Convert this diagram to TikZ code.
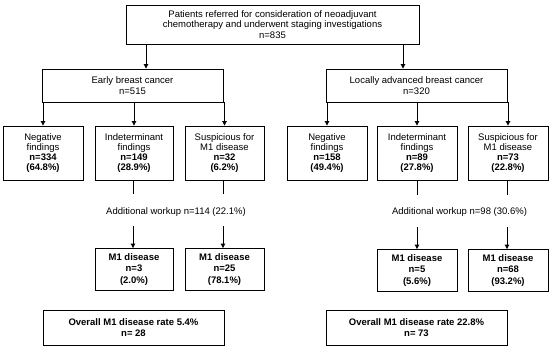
\documentclass[tikz,border=0pt]{standalone}
\usepackage{fontspec}
\setmainfont{Liberation Sans}
\usetikzlibrary{arrows.meta}
\begin{document}
\begin{tikzpicture}[x=1pt,y=-1pt,
  box/.style={draw=black,line width=0.9pt,rectangle,inner sep=0pt,align=center,
    font=\fontsize{9.5}{10.6}\selectfont},
  lvl/.style={box,minimum height=54pt,font=\fontsize{9.5}{10}\selectfont},
  mbox/.style={box,minimum height=42pt,minimum width=79pt,font=\bfseries\fontsize{9.5}{11.4}\selectfont},
  obox/.style={box,minimum height=35pt,minimum width=181pt,font=\bfseries\fontsize{9.5}{11.2}\selectfont},
  conn/.style={line width=0.9pt,draw=black},
  arr/.style={conn,-{Triangle[width=4.5pt,length=4.5pt]}},
  note/.style={inner sep=0pt,font=\fontsize{9.5}{10.6}\selectfont}
]
\useasboundingbox (0,0) rectangle (550,349);

\node[box,minimum width=293pt,minimum height=39pt] (top) at (272.5,24.5)
  {Patients referred for consideration of neoadjuvant\\chemotherapy and underwent staging investigations\\n=835};

\node[box,minimum width=181pt,minimum height=33pt] (early) at (132.5,85.5) {Early breast cancer\\n=515};
\node[box,minimum width=181pt,minimum height=33pt] (lab) at (416.5,85.5) {Locally advanced breast cancer\\n=320};

\node[lvl,minimum width=80pt] (negL) at (43,153) {Negative\\findings\\\textbf{n=334}\\\textbf{(64.8\%)}};
\node[lvl,minimum width=78pt] (indL) at (134,153) {Indeterminant\\findings\\\textbf{n=149}\\\textbf{(28.9\%)}};
\node[lvl,minimum width=79pt] (susL) at (224.5,153) {Suspicious for\\M1 disease\\\textbf{n=32}\\\textbf{(6.2\%)}};

\node[lvl,minimum width=80pt] (negR) at (327,153) {Negative\\findings\\\textbf{n=158}\\\textbf{(49.4\%)}};
\node[lvl,minimum width=80pt] (indR) at (417,153) {Indeterminant\\findings\\\textbf{n=89}\\\textbf{(27.8\%)}};
\node[lvl,minimum width=80pt] (susR) at (508,153) {Suspicious for\\M1 disease\\\textbf{n=73}\\\textbf{(22.8\%)}};

\node[note] (workL) at (176,212) {Additional workup n=114 (22.1\%)};
\node[note] (workR) at (459.5,212) {Additional workup n=98 (30.6\%)};

\node[mbox,minimum width=78pt] (m1a) at (134,269.5) {M1 disease\\n=3\\(2.0\%)};
\node[mbox] (m1b) at (224.5,269.5) {M1 disease\\n=25\\(78.1\%)};
\node[mbox,minimum width=80pt] (m1c) at (417,270.5) {M1 disease\\n=5\\(5.6\%)};
\node[mbox,minimum width=80pt] (m1d) at (508,270.5) {M1 disease\\n=68\\(93.2\%)};

\node[obox] (ovL) at (133.5,327.5) {Overall M1 disease rate 5.4\%\\n= 28};
\node[obox] (ovR) at (416.5,328) {Overall M1 disease rate 22.8\%\\n= 73};

% top arrows
\draw[arr] (top.south -| 146,0) -- (early.north -| 146,0);
\draw[arr] (top.south -| 403,0) -- (lab.north -| 403,0);

% to level 3
\draw[arr] (early.south -| negL.north) -- (negL.north);
\draw[arr] (early.south -| indL.north) -- (indL.north);
\draw[arr] (early.south -| susL.north) -- (susL.north);
\draw[arr] (lab.south -| negR.north) -- (negR.north);
\draw[arr] (lab.south -| indR.north) -- (indR.north);
\draw[arr] (lab.south -| susR.north) -- (susR.north);

% workup lines
\coordinate (a1) at (133,194);
\coordinate (a2) at (223,194);
\coordinate (b1) at (133,226);
\coordinate (b2) at (223,226);
\draw[conn] (indL.south -| a1) -- (a1);
\draw[conn] (susL.south -| a2) -- (a2);
\draw[arr] (b1) -- (m1a.north -| b1);
\draw[arr] (b2) -- (m1b.north -| b2);

\coordinate (c1) at (417,195);
\coordinate (c2) at (507,195);
\coordinate (d1) at (417,227);
\coordinate (d2) at (507,227);
\draw[conn] (indR.south -| c1) -- (c1);
\draw[conn] (susR.south -| c2) -- (c2);
\draw[arr] (d1) -- (m1c.north -| d1);
\draw[arr] (d2) -- (m1d.north -| d2);
\end{tikzpicture}
\end{document}
